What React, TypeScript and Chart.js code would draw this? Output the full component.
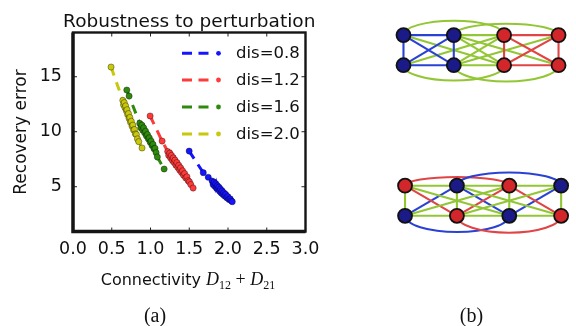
import React, { useEffect, useRef } from "react";
import { Chart, registerables } from "chart.js";
Chart.register(...registerables);

// ---------- Panel (a) data ----------
const seriesLabels = ["dis=0.8", "dis=1.2", "dis=1.6", "dis=2.0"];
const seriesColors = ["#1414ff", "#ff3a3a", "#2e8a0c", "#c8c80c"];

const blueX = [1.499, 1.681, 1.745, 1.795, 1.808, 1.82, 1.83, 1.842, 1.85, 1.862, 1.87, 1.882, 1.892, 1.903, 1.912, 1.924, 1.935, 1.946, 1.958, 1.97, 1.984, 1.998, 2.012, 2.028, 2.042, 2.055];
const blueY = [8.24, 6.28, 5.86, 5.52, 5.2, 5.42, 5.05, 5.28, 4.9, 5.1, 4.78, 4.95, 4.6, 4.78, 4.45, 4.62, 4.3, 4.45, 4.15, 4.3, 4.0, 4.1, 3.85, 3.9, 3.72, 3.64];

const redX = [0.995, 1.15, 1.222, 1.235, 1.248, 1.26, 1.27, 1.282, 1.294, 1.305, 1.316, 1.328, 1.34, 1.352, 1.364, 1.376, 1.388, 1.4, 1.413, 1.426, 1.44, 1.455, 1.47, 1.486, 1.502, 1.52, 1.55];
const redY = [11.43, 9.15, 8.2, 7.85, 8.05, 7.62, 7.85, 7.4, 7.62, 7.2, 7.42, 6.98, 7.2, 6.75, 6.95, 6.52, 6.72, 6.3, 6.45, 6.05, 6.2, 5.8, 5.9, 5.55, 5.45, 5.2, 4.88];

const greenX = [0.694, 0.724, 0.862, 0.875, 0.888, 0.9, 0.912, 0.924, 0.936, 0.948, 0.96, 0.972, 0.984, 0.996, 1.008, 1.02, 1.032, 1.045, 1.058, 1.072, 1.088, 1.176];
const greenY = [13.79, 13.24, 10.75, 10.35, 10.6, 10.15, 10.35, 9.9, 10.05, 9.62, 9.75, 9.35, 9.45, 9.05, 9.15, 8.75, 8.85, 8.45, 8.5, 8.1, 7.7, 6.61];

const yellowX = [0.491, 0.643, 0.652, 0.661, 0.67, 0.679, 0.688, 0.697, 0.706, 0.715, 0.724, 0.733, 0.742, 0.752, 0.762, 0.772, 0.782, 0.793, 0.805, 0.818, 0.832, 0.848, 0.891];
const yellowY = [15.88, 12.85, 12.45, 12.65, 12.2, 12.35, 11.9, 12.0, 11.55, 11.65, 11.2, 11.3, 10.85, 10.95, 10.5, 10.6, 10.15, 10.2, 9.8, 9.75, 9.35, 9.1, 8.52];

const xTicks = [0, 0.5, 1, 1.5, 2, 2.5, 3];
const yTicks = [5, 10, 15];
const titleText = "Robustness to perturbation";
const yLabel = "Recovery error";

// ---------- Panel (b) data ----------
const NB = "#1a1a88";
const NR = "#d2262a";
const g1X = [0, 0.97, 1.94, 2.99, 0, 0.97, 1.94, 2.99];
const g1Y = [5, 5, 5, 5, 4, 4, 4, 4];
const g1Colors = [NB, NB, NR, NR, NB, NB, NR, NR];
const g2X = [0.03, 1.03, 2.04, 3.04, 0.03, 1.03, 2.04, 3.04];
const g2Y = [0, 0, 0, 0, -1, -1, -1, -1];
const g2Colors = [NR, NB, NR, NB, NB, NR, NB, NR];

const g1Edges: [number, number, string][] = [
  [0, 1, "b"], [4, 5, "b"], [0, 4, "b"], [1, 5, "b"], [0, 5, "b"], [1, 4, "b"],
  [2, 3, "r"], [6, 7, "r"], [2, 6, "r"], [3, 7, "r"], [2, 7, "r"], [3, 6, "r"],
  [1, 2, "g"], [5, 6, "g"], [1, 6, "g"], [5, 2, "g"], [0, 6, "g"], [4, 2, "g"], [1, 7, "g"], [5, 3, "g"],
];
const g1Arcs: [number, number, string, number][] = [
  [0, 2, "g", 0.48], [1, 3, "g", 0.38], [4, 6, "g", -0.51], [5, 7, "g", -0.54],
];
const g2Edges: [number, number, string][] = [
  [0, 4, "g"], [1, 5, "g"], [2, 6, "g"], [3, 7, "g"],
  [0, 1, "g"], [1, 2, "g"], [2, 3, "g"], [4, 5, "g"], [5, 6, "g"], [6, 7, "g"],
  [4, 2, "g"], [0, 6, "g"], [1, 7, "g"], [5, 3, "g"],
  [0, 5, "r"], [2, 5, "r"], [2, 7, "r"],
  [4, 1, "b"], [1, 6, "b"], [6, 3, "b"],
];
const g2Arcs: [number, number, string, number][] = [
  [0, 2, "r", 0.29], [1, 3, "b", 0.44], [4, 6, "b", -0.54], [5, 7, "r", -0.56],
];
const edgeColors: Record<string, string> = { b: "#2a42d4", r: "#e04444", g: "#92c634" };

const SANS = "'DejaVu Sans', sans-serif";
const SERIF = "'Liberation Serif', 'DejaVu Serif', serif";

function toPts(xs: number[], ys: number[]) {
  return xs.map((x, i) => ({ x, y: ys[i] }));
}

const frameAndTextPlugin = {
  id: "frameAndText",
  afterDraw(chart: any) {
    const { ctx, chartArea: a, scales } = chart;
    const xs = scales.x, ys = scales.y;
    ctx.save();
    // inner ticks
    ctx.strokeStyle = "#222";
    ctx.lineWidth = 1;
    xTicks.forEach((v) => {
      const px = xs.getPixelForValue(v);
      if (px <= a.left + 1 || px >= a.right - 1) return;
      ctx.beginPath();
      ctx.moveTo(px, a.bottom); ctx.lineTo(px, a.bottom - 4);
      ctx.moveTo(px, a.top); ctx.lineTo(px, a.top + 4);
      ctx.stroke();
    });
    yTicks.forEach((v) => {
      const py = ys.getPixelForValue(v);
      ctx.beginPath();
      ctx.moveTo(a.left, py); ctx.lineTo(a.left + 4, py);
      ctx.moveTo(a.right, py); ctx.lineTo(a.right - 4, py);
      ctx.stroke();
    });
    // frame
    ctx.strokeStyle = "#151515";
    ctx.lineWidth = 2.4;
    ctx.strokeRect(a.left, a.top, a.right - a.left, a.bottom - a.top);
    ctx.lineWidth = 3.4;
    ctx.beginPath();
    ctx.moveTo(a.left, a.top); ctx.lineTo(a.left, a.bottom); ctx.lineTo(a.right, a.bottom);
    ctx.stroke();

    // legend
    const legY = [53.3, 80, 107, 134];
    seriesLabels.forEach((lab, i) => {
      const y = legY[i];
      ctx.strokeStyle = seriesColors[i];
      ctx.lineWidth = 3;
      ctx.setLineDash([10, 6.5]);
      ctx.beginPath();
      ctx.moveTo(182, y); ctx.lineTo(208.5, y);
      ctx.stroke();
      ctx.setLineDash([]);
      ctx.fillStyle = seriesColors[i];
      ctx.beginPath();
      ctx.arc(218.5, y, 2.4, 0, Math.PI * 2);
      ctx.fill();
      ctx.fillStyle = "#111";
      ctx.font = `16.5px ${SANS}`;
      ctx.textAlign = "left";
      ctx.textBaseline = "middle";
      ctx.fillText(lab, 236, y + 0.5);
    });

    // title
    ctx.fillStyle = "#111";
    ctx.font = `18.5px ${SANS}`;
    ctx.textAlign = "center";
    ctx.textBaseline = "alphabetic";
    ctx.fillText(titleText, (a.left + a.right) / 2, 27);

    // x axis title with math
    const base = 285;
    const parts: [string, string, number][] = [
      ["Connectivity ", `16px ${SANS}`, 0],
      ["D", `italic 18px ${SERIF}`, 0],
      ["12", `12px ${SERIF}`, 4],
      [" + ", `18px ${SERIF}`, 0],
      ["D", `italic 18px ${SERIF}`, 0],
      ["21", `12px ${SERIF}`, 4],
    ];
    let total = 0;
    const widths = parts.map(([t, f]) => { ctx.font = f; const w = ctx.measureText(t).width; total += w; return w; });
    let x = 188 - total / 2;
    ctx.textAlign = "left";
    parts.forEach(([t, f, dy], i) => {
      ctx.font = f;
      ctx.fillText(t, x, base + dy);
      x += widths[i];
    });
    ctx.restore();
  },
};

function ChartA() {
  const ref = useRef<HTMLCanvasElement | null>(null);
  useEffect(() => {
    if (!ref.current) return;
    const sets = [
      [blueX, blueY], [redX, redY], [greenX, greenY], [yellowX, yellowY],
    ];
    const chart = new Chart(ref.current, {
      type: "scatter",
      data: {
        datasets: sets.map(([xs, ys], i) => ({
          label: seriesLabels[i],
          data: toPts(xs, ys),
          showLine: true,
          borderColor: seriesColors[i],
          borderWidth: 3,
          borderDash: [9, 7],
          backgroundColor: seriesColors[i],
          pointBackgroundColor: seriesColors[i],
          pointBorderColor: "rgba(0,0,0,0.6)",
          pointBorderWidth: 0.6,
          pointRadius: 3.1,
          order: 3 - i,
        })),
      },
      options: {
        responsive: false,
        animation: false,
        events: [],
        layout: { padding: { top: 32.5, right: 24.5, left: 0, bottom: 0 } },
        plugins: { legend: { display: false }, title: { display: false }, tooltip: { enabled: false } },
        scales: {
          x: {
            type: "linear",
            min: 0,
            max: 3,
            afterBuildTicks: (s: any) => { s.ticks = xTicks.map((v) => ({ value: v })); },
            afterFit: (s: any) => { s.height = 326 - 231.5; },
            ticks: {
              callback: (v: any) => Number(v).toFixed(1),
              font: { family: SANS, size: 17.5 },
              color: "#111",
              padding: 7,
              maxRotation: 0,
              autoSkip: false,
            },
            grid: { display: false, drawTicks: false },
            border: { display: false },
          },
          y: {
            type: "linear",
            min: 0.93,
            max: 19.02,
            afterBuildTicks: (s: any) => { s.ticks = yTicks.map((v) => ({ value: v })); },
            afterFit: (s: any) => { s.width = 73; },
            ticks: {
              callback: (v: any) => String(v),
              font: { family: SANS, size: 17.5 },
              color: "#111",
              padding: 11,
            },
            grid: { display: false, drawTicks: false },
            border: { display: false },
            title: {
              display: true,
              text: yLabel,
              font: { family: SANS, size: 17 },
              color: "#111",
              padding: { top: 11, bottom: 0 },
            },
          },
        },
      },
      plugins: [frameAndTextPlugin],
    } as any);
    return () => chart.destroy();
  }, []);
  return (
    <canvas
      ref={ref}
      width={330}
      height={326}
      style={{ position: "absolute", left: 0, top: 0, width: 330, height: 326 }}
    />
  );
}

const arcsPlugin = {
  id: "arcs",
  beforeDatasetsDraw(chart: any) {
    const { ctx, scales } = chart;
    const xs = scales.x, ys = scales.y;
    const drawArcs = (nx: number[], ny: number[], arcs: [number, number, string, number][]) => {
      arcs.forEach(([a, b, c, bulge]) => {
        const x1 = xs.getPixelForValue(nx[a]);
        const x2 = xs.getPixelForValue(nx[b]);
        const y0 = ys.getPixelForValue(ny[a]);
        const ry = Math.abs(ys.getPixelForValue(ny[a] + bulge) - y0);
        ctx.save();
        ctx.strokeStyle = edgeColors[c];
        ctx.lineWidth = 2;
        ctx.beginPath();
        if (bulge > 0) ctx.ellipse((x1 + x2) / 2, y0, Math.abs(x2 - x1) / 2, ry, 0, Math.PI, Math.PI * 2);
        else ctx.ellipse((x1 + x2) / 2, y0, Math.abs(x2 - x1) / 2, ry, 0, 0, Math.PI);
        ctx.stroke();
        ctx.restore();
      });
    };
    drawArcs(g1X, g1Y, g1Arcs);
    drawArcs(g2X, g2Y, g2Arcs);
  },
};

function ChartB() {
  const ref = useRef<HTMLCanvasElement | null>(null);
  useEffect(() => {
    if (!ref.current) return;
    const edgeSets = (nx: number[], ny: number[], edges: [number, number, string][]) =>
      edges.map(([a, b, c]) => ({
        data: [{ x: nx[a], y: ny[a] }, { x: nx[b], y: ny[b] }],
        showLine: true,
        borderColor: edgeColors[c],
        borderWidth: 2.1,
        pointRadius: 0,
        order: 5,
        clip: false,
      }));
    const nodeSet = (nx: number[], ny: number[], cols: string[]) => ({
      data: toPts(nx, ny),
      showLine: false,
      pointRadius: 7,
      pointBackgroundColor: cols,
      pointBorderColor: "#111",
      pointBorderWidth: 1.8,
      order: 0,
      clip: false,
    });
    const chart = new Chart(ref.current, {
      type: "scatter",
      data: {
        datasets: [
          nodeSet(g1X, g1Y, g1Colors),
          nodeSet(g2X, g2Y, g2Colors),
          ...edgeSets(g1X, g1Y, g1Edges),
          ...edgeSets(g2X, g2Y, g2Edges),
        ],
      },
      options: {
        responsive: false,
        animation: false,
        events: [],
        layout: { padding: 0 },
        plugins: { legend: { display: false }, title: { display: false }, tooltip: { enabled: false } },
        scales: {
          x: { type: "linear", display: false, min: -0.476, max: 3.157 },
          y: { type: "linear", display: false, min: -1.843, max: 5.873 },
        },
      },
      plugins: [arcsPlugin],
    } as any);
    return () => chart.destroy();
  }, []);
  return (
    <canvas
      ref={ref}
      width={206}
      height={250}
      style={{ position: "absolute", left: 370, top: 0, width: 206, height: 250 }}
    />
  );
}

const capStyle: React.CSSProperties = {
  position: "absolute",
  fontFamily: SERIF,
  fontSize: 20,
  color: "#111",
  transform: "translate(-50%, -50%)",
  whiteSpace: "nowrap",
  lineHeight: 1,
};

export default function App() {
  return (
    <div
      style={{
        position: "fixed",
        left: 0,
        top: 0,
        width: 576,
        height: 326,
        background: "#fff",
        overflow: "hidden",
      }}
    >
      <ChartA />
      <ChartB />
      <div style={{ ...capStyle, left: 155, top: 315 }}>(a)</div>
      <div style={{ ...capStyle, left: 471.5, top: 315 }}>(b)</div>
    </div>
  );
}
